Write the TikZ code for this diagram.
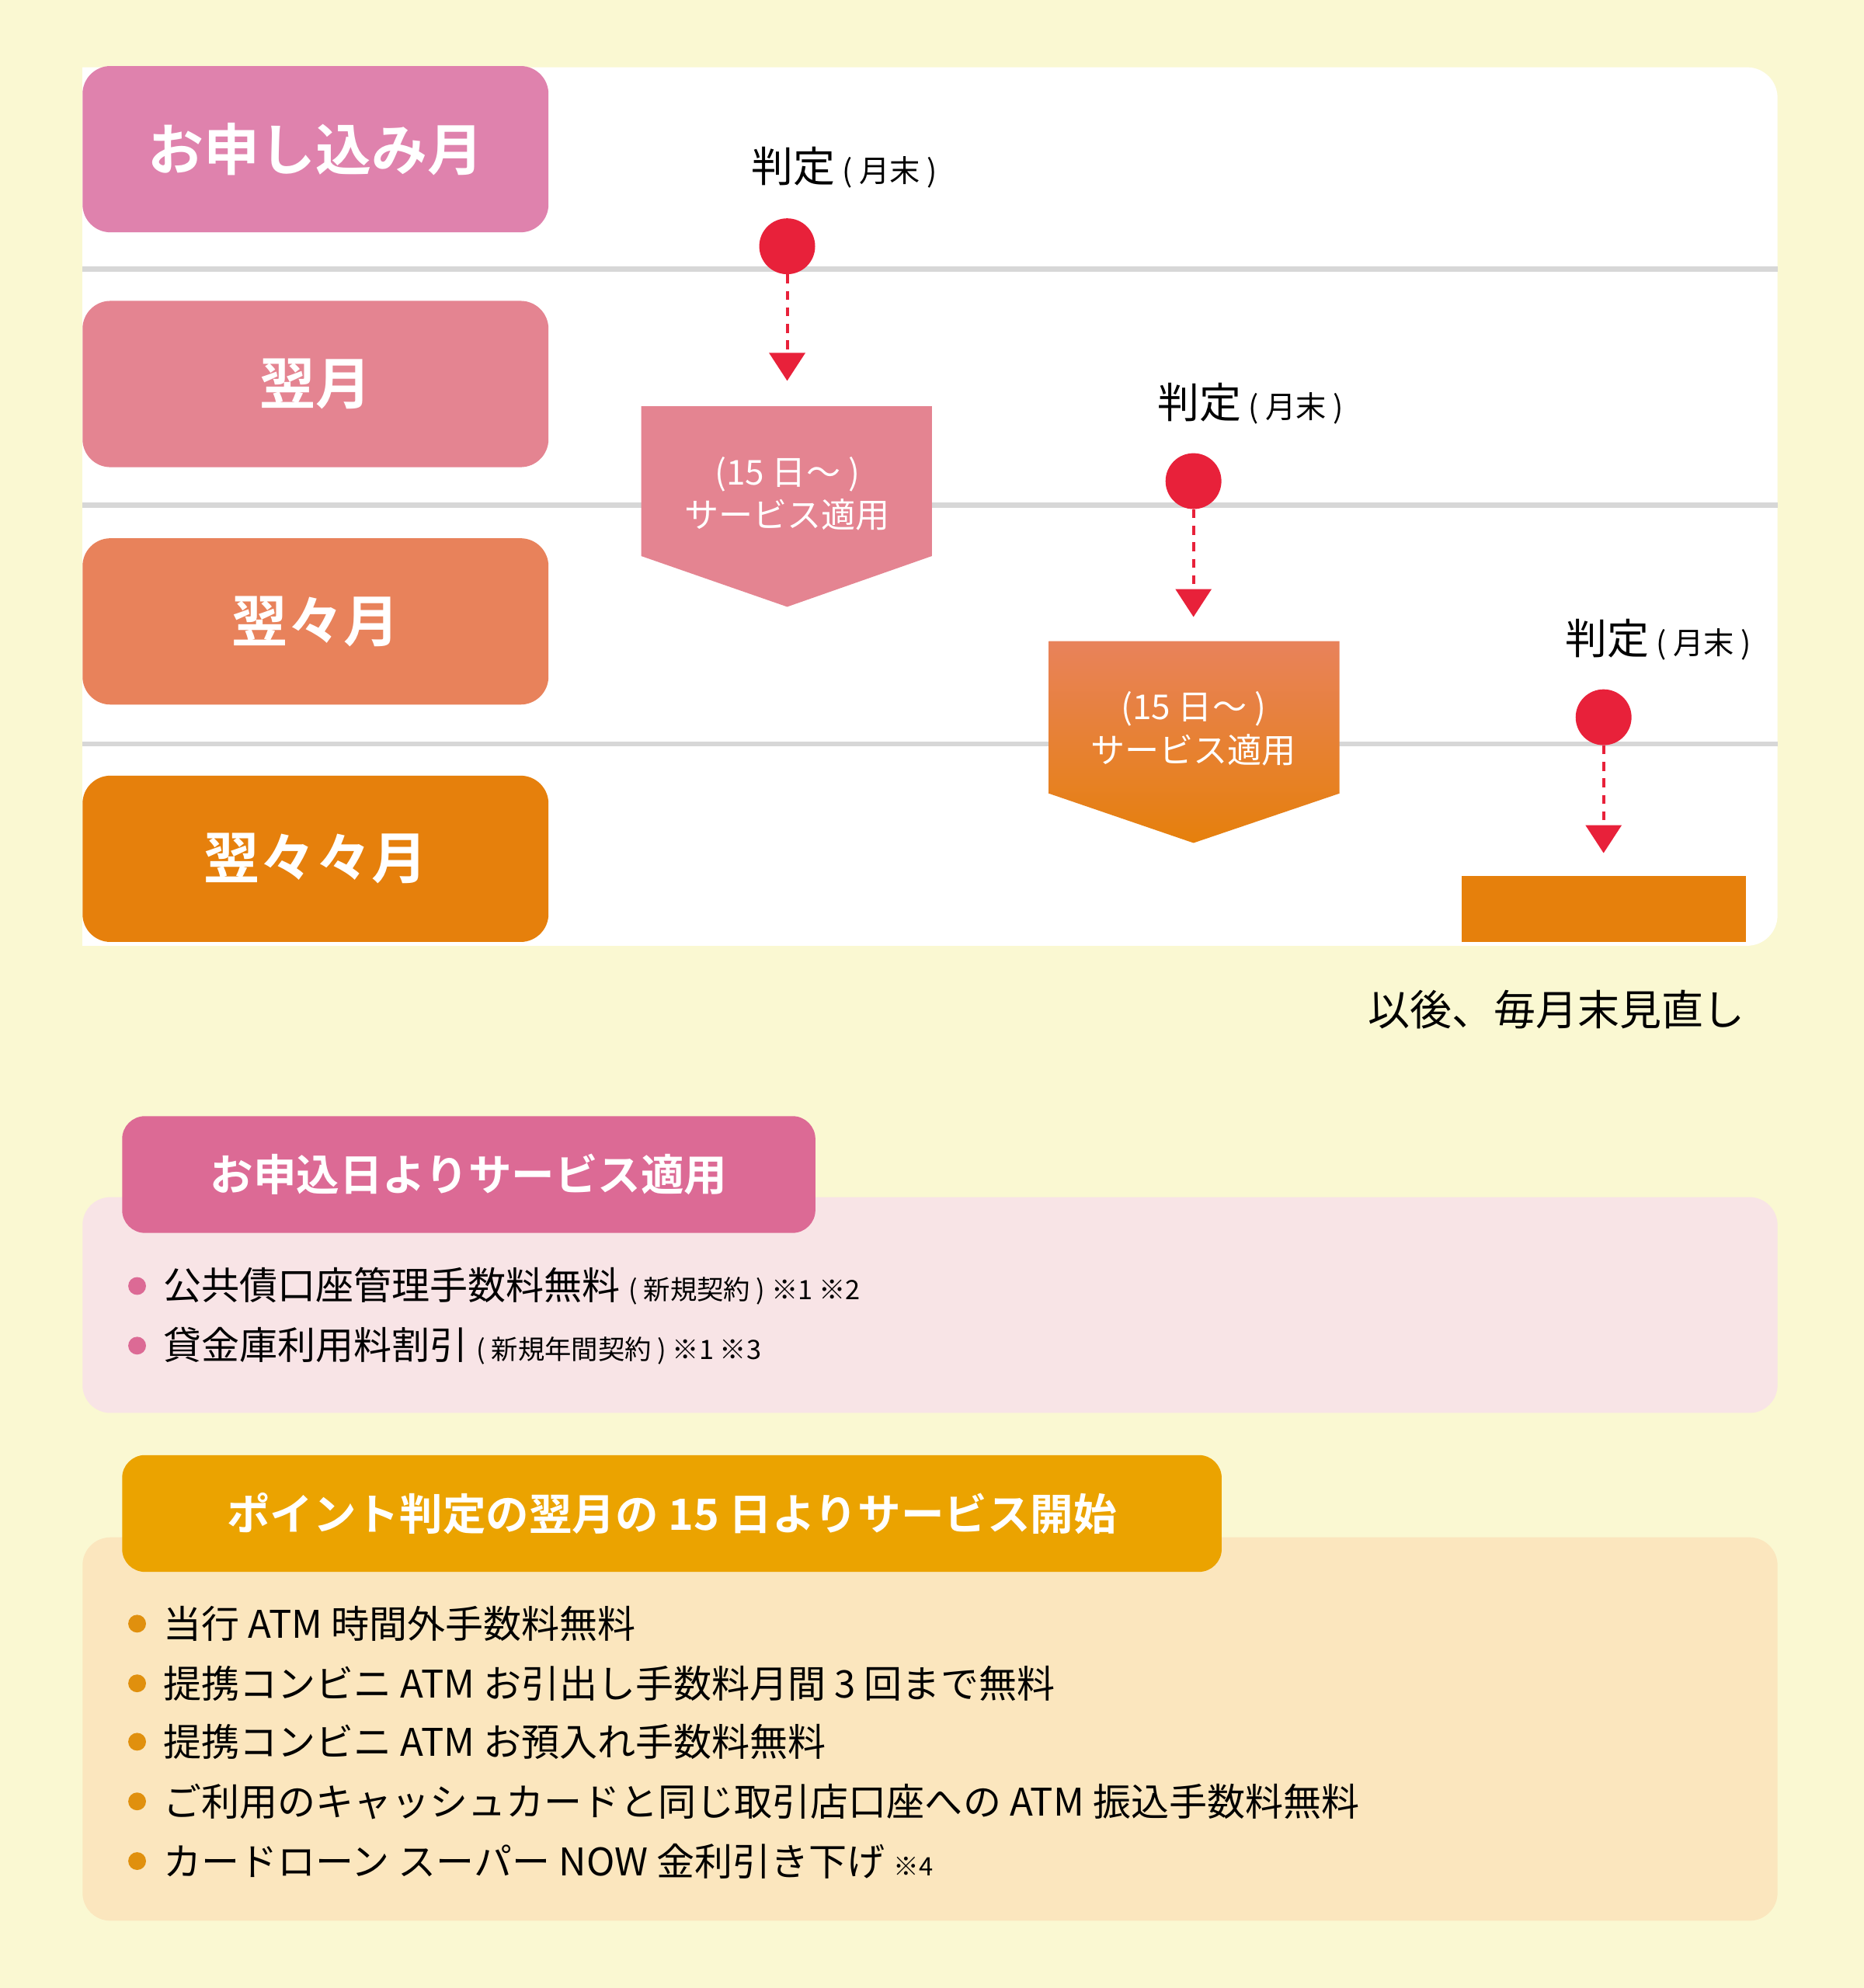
\documentclass[tikz,border=0pt]{standalone}
\usepackage{fontspec}
\setmainfont{Noto Sans CJK JP}
\newfontfamily\jpbold{Noto Sans CJK JP Bold}
\usetikzlibrary{positioning,arrows.meta}
\definecolor{bgyellow}{RGB}{250,248,210}
\definecolor{rowA}{RGB}{223,130,173}
\definecolor{rowB}{RGB}{228,132,145}
\definecolor{rowC}{RGB}{232,130,91}
\definecolor{rowD}{RGB}{230,128,12}
\definecolor{dotred}{RGB}{232,33,58}
\definecolor{pinkhead}{RGB}{220,106,149}
\definecolor{pinkpanel}{RGB}{248,228,230}
\definecolor{orangehead}{RGB}{235,163,0}
\definecolor{orangepanel}{RGB}{251,230,190}
\definecolor{orangebullet}{RGB}{224,144,14}
\definecolor{gridgray}{RGB}{215,215,215}
\tikzset{
  rowbox/.style={rounded corners=22pt, minimum width=367pt, minimum height=131pt, inner sep=0pt,
    text=white, font=\jpbold\fontsize{44}{48}\selectfont},
  judge/.style={font=\fontsize{33}{36}\selectfont},
  judgedot/.style={circle, fill=dotred, minimum size=44pt, inner sep=0pt},
  judgearrow/.style={dotred, line width=2.5pt, dash pattern=on 7pt off 6pt, -{Triangle[length=22pt,width=28pt]}},
  boxtext/.style={text=white, align=center, font=\fontsize{27}{34}\selectfont},
  headbox/.style={rounded corners=18pt, minimum height=92pt, inner sep=0pt, anchor=north west,
    text=white, font=\jpbold\fontsize{34}{38}\selectfont},
  item/.style={anchor=west, font=\fontsize{30}{34}\selectfont},
  note/.style={font=\fontsize{20}{24}\selectfont}
}
\begin{document}
\begin{tikzpicture}[x=1pt,y=-1pt]
\fill[bgyellow] (0,0) rectangle (1468,1566);
\useasboundingbox (0,0) rectangle (1468,1566);

% timeline panel
\fill[white,rounded corners=24pt] (65,53) -- (1400,53) -- (1400,745) -- (65,745) [sharp corners] -- cycle;
\fill[white] (65,53) rectangle (200,745);
\foreach \y in {212,398,586}
  \draw[gridgray,line width=4pt] (65,\y) -- (1400,\y);

\node[rowbox,fill=rowA] (month0) at (248.5,117.5) {お申し込み月};
\node[rowbox,fill=rowB] (month1) at (248.5,302.5) {翌月};
\node[rowbox,fill=rowC] (month2) at (248.5,489.5) {翌々月};
\node[rowbox,fill=rowD] (month3) at (248.5,676.5) {翌々々月};

% judgement 1
\node[judge] (judgeA) at (665,132) {判定\,{\fontsize{24}{28}\selectfont ( 月末 )}};
\node[judgedot] (dotA) at (620,194) {};
\coordinate (tipA) at (620,300);
\draw[judgearrow] (dotA) -- (tipA);
\fill[rowB] (505,320) -- (734,320) -- (734,438) -- (620,478) -- (505,438) -- cycle;
\node[boxtext] (startA) at (620,389) {(15 日～ )\\サービス適用};

% judgement 2
\node[judge] (judgeB) at (985,318) {判定\,{\fontsize{24}{28}\selectfont ( 月末 )}};
\node[judgedot] (dotB) at (940,379) {};
\coordinate (tipB) at (940,486);
\draw[judgearrow] (dotB) -- (tipB);
\shade[top color=rowC,bottom color=rowD] (826,505) -- (1055,505) -- (1055,625) -- (940,664) -- (826,625) -- cycle;
\node[boxtext] (startB) at (940,574) {(15 日～ )\\サービス適用};

% judgement 3
\node[judge] (judgeC) at (1306,504) {判定\,{\fontsize{24}{28}\selectfont ( 月末 )}};
\node[judgedot] (dotC) at (1263,565) {};
\coordinate (tipC) at (1263,672);
\draw[judgearrow] (dotC) -- (tipC);
\fill[rowD] (1151,690) rectangle (1375,742);

\node[judge,anchor=east] (review) at (1378,795) {以後、毎月末見直し};

% section 1
\fill[pinkpanel,rounded corners=22pt] (65,943) rectangle (1400,1113);
\node[headbox,fill=pinkhead,minimum width=546pt] (headA) at (96,879) {お申込日よりサービス適用};
\foreach \y/\t in {1013/{公共債口座管理手数料無料 {\fontsize{21}{24}\selectfont( 新規契約 ) ※1\ ※2}},
                   1060/{貸金庫利用料割引 {\fontsize{21}{24}\selectfont( 新規年間契約 ) ※1\ ※3}}}{
  \fill[pinkhead] (108,\y) circle (7pt);
  \node[item] at (125,\y) {\t};
}

% section 2
\fill[orangepanel,rounded corners=22pt] (65,1211) rectangle (1400,1513);
\node[headbox,fill=orangehead,minimum width=866pt] (headB) at (96,1146) {ポイント判定の翌月の 15 日よりサービス開始};
\foreach \y/\t in {1279/{当行 ATM 時間外手数料無料},
                   1326/{提携コンビニ ATM お引出し手数料月間 3 回まで無料},
                   1372/{提携コンビニ ATM お預入れ手数料無料},
                   1419/{ご利用のキャッシュカードと同じ取引店口座への ATM 振込手数料無料},
                   1466/{カードローン スーパー NOW 金利引き下げ {\fontsize{20}{24}\selectfont ※4}}}{
  \fill[orangebullet] (108,\y) circle (7pt);
  \node[item] at (125,\y) {\t};
}
\end{tikzpicture}
\end{document}
